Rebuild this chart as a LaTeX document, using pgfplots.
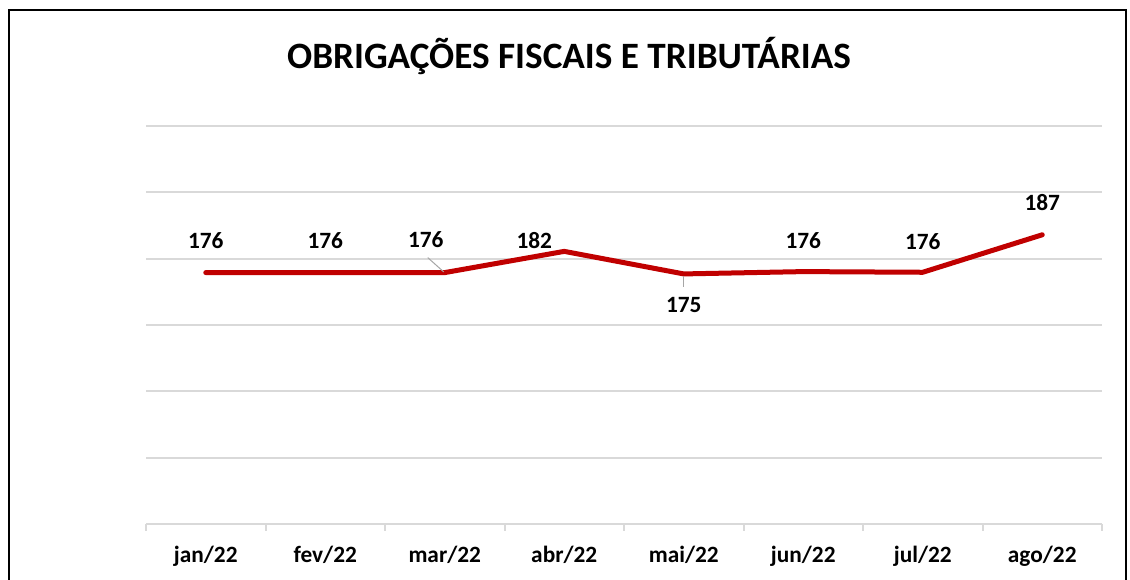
\documentclass[border=0pt]{standalone}
\usepackage{pgfplots}
\pgfplotsset{compat=1.18}
\usepackage{pgfplotstable}
\usepackage{fontspec}
\setmainfont{Carlito}
\definecolor{linered}{HTML}{C00000}
\definecolor{gridgray}{HTML}{D9D9D9}
\definecolor{leadgray}{HTML}{A6A6A6}
\tikzset{lbl/.style={font=\fontsize{17.5}{20}\selectfont\bfseries, inner sep=0pt, anchor=center}}
\pgfplotstableread{
x y
0 175.8
1 175.8
2 175.8
3 182.2
4 175.4
5 176.1
6 175.9
7 187.2
}\datatable
\begin{document}
\begin{tikzpicture}
\path[use as bounding box] (0,0) rectangle (847.5pt,434.25pt);
\draw[line width=1.5pt] (6.75pt,-2pt) -- (6.75pt,426.75pt) -- (844.5pt,426.75pt) -- (844.5pt,-2pt);
\node[anchor=base, inner sep=0pt, font=\fontsize{27.9}{30}\selectfont\bfseries] at (426.75pt,382.5pt) {OBRIGAÇÕES FISCAIS E TRIBUTÁRIAS};
\begin{axis}[
  at={(109.5pt,41.25pt)}, anchor=south west,
  width=717pt, height=298.5pt, scale only axis,
  xmin=-0.5, xmax=7.5, ymin=100, ymax=220,
  axis lines*=left,
  y axis line style={draw=none},
  x axis line style={-, draw=gridgray, line width=1.5pt},
  xtick={0,...,7},
  xticklabels={jan/22,fev/22,mar/22,abr/22,mai/22,jun/22,jul/22,ago/22},
  major tick length=0pt,
  minor xtick={-0.5,0.5,...,7.5},
  minor tick length=5pt,
  tick align=outside,
  minor x tick style={draw=gridgray, line width=1.5pt},
  xticklabel style={font=\fontsize{17.5}{20}\selectfont\bfseries, anchor=base, yshift=-28.5pt},
  ytick={100,120,...,220},
  yticklabels={},
  ytick style={draw=none},
  ymajorgrids,
  major grid style={draw=gridgray, line width=1.5pt},
  clip=false,
]
\addplot[linered, line width=3.75pt, line cap=round, line join=round] table[x=x, y=y] {\datatable};
\node[lbl, yshift=24pt] at (axis cs:0,175.8) {176};
\node[lbl, yshift=24pt] at (axis cs:1,175.8) {176};
\node[lbl, xshift=-14.25pt, yshift=24.75pt] at (axis cs:2,175.8) {176};
\draw[leadgray, line width=0.75pt] ([xshift=-0.75pt,yshift=0.5pt]axis cs:2,175.8) -- ([xshift=-12.75pt,yshift=11.25pt]axis cs:2,175.8);
\node[lbl, xshift=-22.5pt, yshift=8.25pt] at (axis cs:3,182.2) {182};
\node[lbl, yshift=-23.25pt] at (axis cs:4,175.4) {175};
\draw[leadgray, line width=0.75pt] ([yshift=-1.5pt]axis cs:4,175.4) -- ([yshift=-9.75pt]axis cs:4,175.4);
\node[lbl, yshift=23.25pt] at (axis cs:5,176.1) {176};
\node[lbl, yshift=23.25pt] at (axis cs:6,175.9) {176};
\node[lbl, yshift=24pt] at (axis cs:7,187.2) {187};
\end{axis}
\end{tikzpicture}
\end{document}
